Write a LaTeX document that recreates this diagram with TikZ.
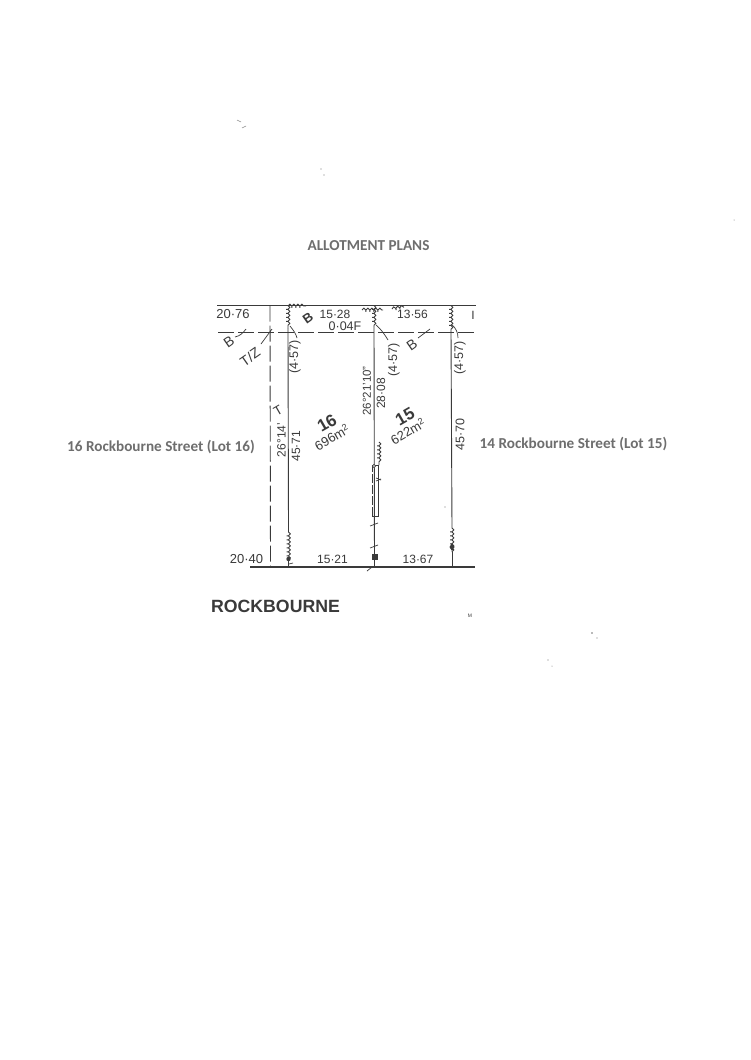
\documentclass[tikz,border=0pt]{standalone}
\usepackage{fontspec}
\setmainfont{Liberation Sans}
\newfontfamily\capfont{Carlito}
\usetikzlibrary{decorations.pathmorphing}
\definecolor{ink}{HTML}{3A3A3A}
\definecolor{capgray}{HTML}{6E6E6E}
\tikzset{
  x=1pt,y=1pt,
  plotline/.style={draw=ink,line width=0.9pt},
  setback/.style={draw=ink,line width=0.9pt,dash pattern=on 16pt off 4pt},
  frontline/.style={draw=ink,line width=2pt},
  squig/.style={draw=ink,line width=0.9pt,decorate,decoration={coil,aspect=0.5,segment length=4pt,amplitude=1.8pt}},
  tick/.style={draw=ink,line width=0.7pt},
  dim/.style={text=ink,font=\fontsize{12}{13}\selectfont,inner sep=0pt},
  lotnum/.style={text=ink,font=\bfseries\fontsize{17}{18}\selectfont,inner sep=0pt},
  caption/.style={text=capgray,font=\capfont\bfseries\fontsize{15.2}{16}\selectfont,inner sep=0pt},
  speck/.style={fill=ink!70,draw=none},
}
\begin{document}
\begin{tikzpicture}
\useasboundingbox[fill=white] (0,0) rectangle (750,-1060);
% captions
\node[caption] (title) at (368.5,-246) {ALLOTMENT PLANS};
\node[caption] (lot16) at (161,-447) {16 Rockbourne Street (Lot 16)};
\node[caption] (lot15) at (573.5,-444) {14 Rockbourne Street (Lot 15)};
% key corners
\coordinate (topL) at (217,-305.5);
\coordinate (topR) at (476,-305.5);
\coordinate (sbL) at (218,-332);
\coordinate (sbR) at (476,-332);
\coordinate (frontL) at (250,-567);
\coordinate (frontR) at (474.5,-567);
\coordinate (aT) at (270,-305.5);
\coordinate (aB) at (270.5,-567);
\coordinate (bT) at (288,-305.5);
\coordinate (bS) at (288,-328);
\coordinate (bW) at (288.5,-532);
\coordinate (bX) at (288.5,-560);
\coordinate (bB) at (288.5,-567);
\coordinate (cT) at (374,-305.5);
\coordinate (cS) at (374,-326);
\coordinate (cB) at (374.5,-567);
\coordinate (dT) at (451,-305.5);
\coordinate (dS) at (451,-331);
\coordinate (dW) at (452,-528);
\coordinate (dX) at (452,-552);
\coordinate (dB) at (452,-567);
% boundary lines
\draw[plotline] (topL) -- (topR);
\draw[setback] (sbL) -- (sbR);
\draw[setback] (aT) -- (aB);
\draw[frontline] (frontL) -- (frontR);
\draw[plotline] (bS) -- (bW);
\draw[plotline] (bX) -- (bB);
\draw[plotline] (cS) -- (cB);
\draw[plotline] (dS) -- (dW);
\draw[plotline] (dX) -- (dB);
% fences
\draw[squig] (bT) -- (bS);
\draw[squig] (bW) -- (bX);
\draw[squig] (dT) -- (dS);
\draw[squig] (dW) -- (dX);
\draw[squig] (cT) -- (cS);
\draw[squig] (288,-306) -- (306,-306);
\draw[squig] (362,-310) -- (383,-310);
\draw[squig] (392,-309) -- (404,-307);
\draw[squig] (379,-442) -- (379,-465);
% structure on the shared boundary
\draw[tick] (378,-465) -- (378,-516) -- (372,-516);
\draw[tick,dash pattern=on 9pt off 2pt] (372,-516) -- (372,-465);
\draw[tick] (372,-465) -- (378,-465);
\draw[tick] (376,-478) -- (381,-480);
\draw[tick] (376,-481) -- (381,-479);
\draw[draw=ink,line width=0.7pt,fill=white] (374,-466) circle (1.6);
% end markers
\fill[ink] (371.5,-560) rectangle (377.5,-554);
\fill[ink] (288.5,-559) circle (2.2);
\fill[ink] (452,-551) -- (454.5,-547) -- (452,-543) -- (449.5,-547) -- cycle;
% ticks
\draw[tick] (370,-526) -- (378,-523);
\draw[tick] (370,-548) -- (378,-545);
\draw[tick] (367,-571) -- (372,-567);
\draw[tick] (289,-564) -- (293,-563);
% leader curves
\draw[tick] (235,-337) .. controls (240,-336) and (243,-333) .. (246,-329);
\draw[tick] (261,-344) -- (272,-329);
\draw[tick] (290,-326) .. controls (294,-331) and (296,-334) .. (297,-338);
\draw[tick] (376,-325) .. controls (381,-329) and (385,-335) .. (388,-340);
\draw[tick] (418,-338) -- (430,-329);
\draw[tick] (452,-325) .. controls (456,-328) and (458,-333) .. (458,-338);
% plan texts
\node[dim,font=\fontsize{13}{14}\selectfont] (d2076) at (233,-314.5) {20·76};
\node[dim,font=\bfseries\fontsize{13}{14}\selectfont,rotate=35] (bA) at (308,-318) {B};
\node[dim] (d1528) at (335,-314.5) {15·28};
\node[dim,font=\fontsize{12.5}{13}\selectfont] (d004) at (345,-326) {0·04F};
\node[dim] (d1356) at (412.5,-314.5) {13·56};
\node[dim] (barR) at (473,-315) {I};
\node[dim,font=\fontsize{14}{15}\selectfont,rotate=35] (bB2) at (229,-342) {B};
\node[dim,font=\fontsize{14}{15}\selectfont,rotate=35] (tz) at (250,-357) {T/Z};
\node[dim,font=\fontsize{14}{15}\selectfont,rotate=35] (bC) at (412,-345) {B};
\node[dim,font=\fontsize{12.5}{13}\selectfont,rotate=90] (p1) at (295,-357) {(4·57)};
\node[dim,font=\fontsize{12.5}{13}\selectfont,rotate=90] (p2) at (394,-360) {(4·57)};
\node[dim,font=\fontsize{12.5}{13}\selectfont,rotate=90] (p3) at (460,-358) {(4·57)};
\node[dim,font=\fontsize{11.5}{12}\selectfont,rotate=90] (ang2) at (367,-391) {26°21'10"};
\node[dim,rotate=90] (d2808) at (381,-393.5) {28·08};
\node[dim,font=\fontsize{13}{14}\selectfont,rotate=30] (tT) at (278,-411) {T};
\node[dim,rotate=90] (ang1) at (281.5,-440) {26°14'};
\node[dim,rotate=90] (d4571) at (296,-446) {45·71};
\node[dim,font=\fontsize{12.5}{13}\selectfont,rotate=90] (d4570) at (460,-434.5) {45·70};
\node[lotnum,rotate=30] (n16) at (327,-423) {16};
\node[dim,font=\fontsize{13}{14}\selectfont,rotate=30] (a16) at (332,-437) {696m\textsuperscript{2}};
\node[lotnum,rotate=30] (n15) at (405,-417) {15};
\node[dim,font=\fontsize{13}{14}\selectfont,rotate=30] (a15) at (408,-431) {622m\textsuperscript{2}};
\node[dim,font=\fontsize{13}{14}\selectfont] (d2040) at (246.5,-559.5) {20·40};
\node[dim] (d1521) at (332.5,-559.5) {15·21};
\node[dim] (d1367) at (418,-559.5) {13·67};
\node[text=ink,font=\bfseries\fontsize{17.7}{18}\selectfont,inner sep=0pt] (road) at (275.5,-606) {ROCKBOURNE};
\node[text=ink,font=\fontsize{5}{5}\selectfont,inner sep=0pt] (m) at (470,-616) {M};
% scanning specks
\fill[speck] (321,-169) circle (0.7) (324,-175) circle (0.6) (592,-633) circle (0.8) (597,-638) circle (0.6) (548,-660) circle (0.6) (552,-666) circle (0.5) (445,-507) circle (0.6) (734,-220) circle (0.5);
\draw[draw=ink!60,line width=0.5pt] (237,-120) -- (241,-122) (242,-128) -- (246,-126);
\end{tikzpicture}
\end{document}
